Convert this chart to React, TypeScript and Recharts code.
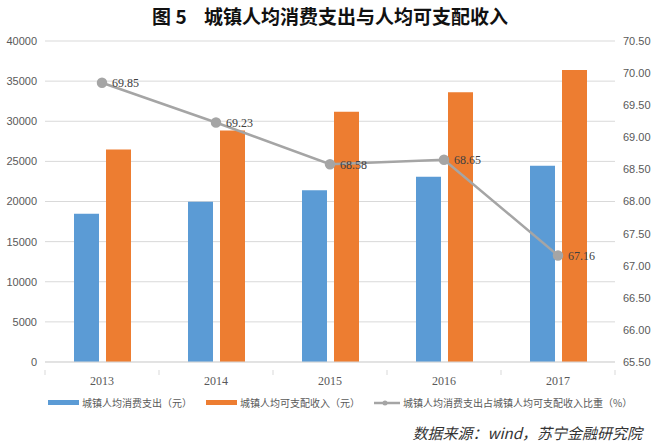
import { Bar, CartesianGrid, ComposedChart, LabelList, Line, XAxis, YAxis } from 'recharts'

const YEARS = ['2013', '2014', '2015', '2016', '2017']
const SPENDING = [18488, 19968, 21392, 23079, 24445]
const INCOME = [26467, 28844, 31195, 33616, 36396]
const RATIO = [69.85, 69.23, 68.58, 68.65, 67.16]
const LEFT_TICKS = [0, 5000, 10000, 15000, 20000, 25000, 30000, 35000, 40000]
const RIGHT_TICKS = [65.5, 66, 66.5, 67, 67.5, 68, 68.5, 69, 69.5, 70, 70.5]

const SERIES_NAMES = ['城镇人均消费支出（元）', '城镇人均可支配收入（元）', '城镇人均消费支出占城镇人均可支配收入比重（%）']

const BLUE = '#5B9BD5'
const ORANGE = '#ED7D31'
const GREY = '#A5A5A5'
const AXIS_TEXT = '#595959'
const GRID = '#D9D9D9'

const data = YEARS.map((year, i) => ({ year, spending: SPENDING[i], income: INCOME[i], ratio: RATIO[i] }))

const narrow = '"Liberation Sans Narrow", "Arial Narrow", "Liberation Sans", sans-serif'
const serif = '"Liberation Serif", "Times New Roman", serif'
const cjk = '"Noto Sans CJK SC", "Noto Sans", sans-serif'

const YearTick = (props: any) => {
  const { x, y, payload, index } = props
  const half = 57
  return (
    <g>
      <line x1={x - half} y1={y} x2={x - half} y2={y + 5} stroke={GRID} />
      {index === YEARS.length - 1 && <line x1={x + half} y1={y} x2={x + half} y2={y + 5} stroke={GRID} />}
      <text x={x} y={y + 15} textAnchor="middle" fontFamily={serif} fontSize={12} fill={AXIS_TEXT}>
        {payload.value}
      </text>
    </g>
  )
}

const LegendItem = ({ kind, color, label }: { kind: 'bar' | 'line'; color: string; label: string }) => (
  <div style={{ display: 'flex', alignItems: 'center', marginRight: 14 }}>
    {kind === 'bar' ? (
      <span style={{ display: 'inline-block', width: 31, height: 5, background: color, marginRight: 3 }} />
    ) : (
      <svg width={27} height={8} style={{ marginRight: 2 }}>
        <line x1={0} y1={4} x2={26} y2={4} stroke={color} strokeWidth={2.5} />
        <circle cx={11} cy={4} r={2.5} fill={color} />
      </svg>
    )}
    <span>{label}</span>
  </div>
)

const App = () => {
  return (
    <div style={{ position: 'absolute', left: 0, top: 0, width: 660, height: 447, background: '#fff', overflow: 'hidden' }}>
      <div
        style={{
          position: 'absolute',
          top: 2,
          left: 0,
          width: 660,
          textAlign: 'center',
          fontFamily: cjk,
          fontWeight: 700,
          fontSize: 19,
          color: '#111',
          whiteSpace: 'pre',
        }}
      >
        {'图 5    城镇人均消费支出与人均可支配收入'}
      </div>

      <div style={{ position: 'absolute', top: 0, left: 0 }}>
        <ComposedChart width={660} height={395} data={data} margin={{ top: 41, right: 0, bottom: 3, left: 0 }} barGap={7} barSize={25}>
          <CartesianGrid yAxisId="left" vertical={false} stroke={GRID} />
          <XAxis dataKey="year" height={30} axisLine={{ stroke: GRID }} tickLine={false} tick={<YearTick />} interval={0} />
          <YAxis
            yAxisId="left"
            width={45}
            domain={[0, 40000]}
            ticks={LEFT_TICKS}
            axisLine={false}
            tickLine={false}
            tick={{ fontSize: 11, fill: AXIS_TEXT, fontFamily: narrow }}
          />
          <YAxis
            yAxisId="right"
            orientation="right"
            width={45}
            domain={[65.5, 70.5]}
            ticks={RIGHT_TICKS}
            axisLine={false}
            tickLine={false}
            tickFormatter={(v: number) => v.toFixed(2)}
            tick={{ fontSize: 11, fill: AXIS_TEXT, fontFamily: narrow }}
          />
          <Bar yAxisId="left" dataKey="spending" fill={BLUE} isAnimationActive={false} />
          <Bar yAxisId="left" dataKey="income" fill={ORANGE} isAnimationActive={false} />
          <Line
            yAxisId="right"
            dataKey="ratio"
            stroke={GREY}
            strokeWidth={2.5}
            dot={{ r: 4, fill: GREY, stroke: GREY }}
            isAnimationActive={false}
          >
            <LabelList dataKey="ratio" position="right" offset={10} fontFamily={serif} fontSize={12} fill="#404040" formatter={(v: number) => v.toFixed(2)} />
          </Line>
        </ComposedChart>
      </div>

      <div
        style={{
          position: 'absolute',
          top: 395,
          left: 48,
          display: 'flex',
          alignItems: 'center',
          fontFamily: cjk,
          fontSize: 10,
          color: AXIS_TEXT,
          whiteSpace: 'nowrap',
        }}
      >
        <LegendItem kind="bar" color={BLUE} label={SERIES_NAMES[0]} />
        <LegendItem kind="bar" color={ORANGE} label={SERIES_NAMES[1]} />
        <LegendItem kind="line" color={GREY} label={SERIES_NAMES[2]} />
      </div>

      <div
        style={{
          position: 'absolute',
          top: 422,
          right: 18,
          fontFamily: cjk,
          fontStyle: 'italic',
          fontSize: 15,
          color: '#333',
          whiteSpace: 'nowrap',
        }}
      >
        数据来源：wind，苏宁金融研究院
      </div>
    </div>
  )
}

export default App
